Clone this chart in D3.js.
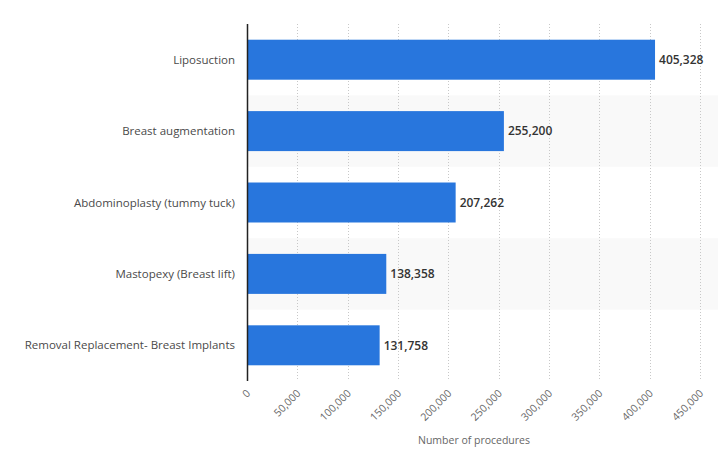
<!DOCTYPE html>
<html><head><meta charset="utf-8">
<script src="https://cdn.jsdelivr.net/npm/d3@7"></script>
<style>
body{margin:0;background:#fff;}
svg{display:block;font-family:"Open Sans",sans-serif;}
</style></head>
<body><svg id="chart" width="720" height="464"></svg>
<script>
const categories = ["Liposuction","Breast augmentation","Abdominoplasty (tummy tuck)","Mastopexy (Breast lift)","Removal Replacement- Breast Implants"];
const values = [405328,255200,207262,138358,131758];
const tickValues = [0,50000,100000,150000,200000,250000,300000,350000,400000,450000];
const axisTitle = "Number of procedures";

const svg = d3.select("#chart");
const mLeft = 247, mRight = 700, mTop = 24, mBottom = 381;
const x = d3.scaleLinear().domain([0,450000]).range([mLeft,mRight]);
const y = d3.scaleBand().domain(categories).range([mTop,mBottom]).paddingInner(0.44).paddingOuter(0.22);
const fmt = d3.format(",");

// stripes
const step = y.step();
svg.append("g").selectAll("rect").data(categories.filter((d,i)=>i%2===1)).join("rect")
  .attr("x", mLeft).attr("width", 718-mLeft)
  .attr("y", d => y(d) - (step - y.bandwidth())/2).attr("height", step)
  .attr("fill", "#f9f9f9");

// grid
svg.append("g").selectAll("line").data(tickValues.slice(1)).join("line")
  .attr("x1", d=>Math.round(x(d))+0.5).attr("x2", d=>Math.round(x(d))+0.5)
  .attr("y1", mTop).attr("y2", mBottom)
  .attr("stroke", "#c8c8c8").attr("stroke-dasharray","1,2");

// bars
svg.append("g").selectAll("rect").data(values).join("rect")
  .attr("x", mLeft).attr("y", (d,i)=>y(categories[i]))
  .attr("width", d=>x(d)-mLeft).attr("height", y.bandwidth())
  .attr("fill", "#2876dd");

// value labels
svg.append("g").selectAll("text").data(values).join("text")
  .attr("x", d=>x(d)+4).attr("y", (d,i)=>y(categories[i])+y.bandwidth()/2)
  .attr("dy","0.35em").attr("font-size",12).attr("font-weight",600)
  .attr("fill","#333").text(d=>fmt(d));

// category labels
svg.append("g").selectAll("text").data(categories).join("text")
  .attr("x", 235).attr("y", d=>y(d)+y.bandwidth()/2).attr("dy","0.35em")
  .attr("text-anchor","end").attr("font-size",11.5).attr("fill","#4a4a4a").text(d=>d);

// y axis line
svg.append("line").attr("x1",mLeft+0.5).attr("x2",mLeft+0.5).attr("y1",mTop).attr("y2",mBottom)
  .attr("stroke","#222").attr("stroke-width",1.5);

// x tick labels
svg.append("g").selectAll("text").data(tickValues).join("text")
  .attr("transform", d=>`translate(${x(d)+4},${394}) rotate(-45)`)
  .attr("text-anchor","end").attr("font-size",10.5).attr("fill","#666").text(d=>fmt(d));

svg.append("text").attr("x",474).attr("y",444).attr("text-anchor","middle")
  .attr("font-size",10.5).attr("fill","#666").text(axisTitle);
</script></body></html>
